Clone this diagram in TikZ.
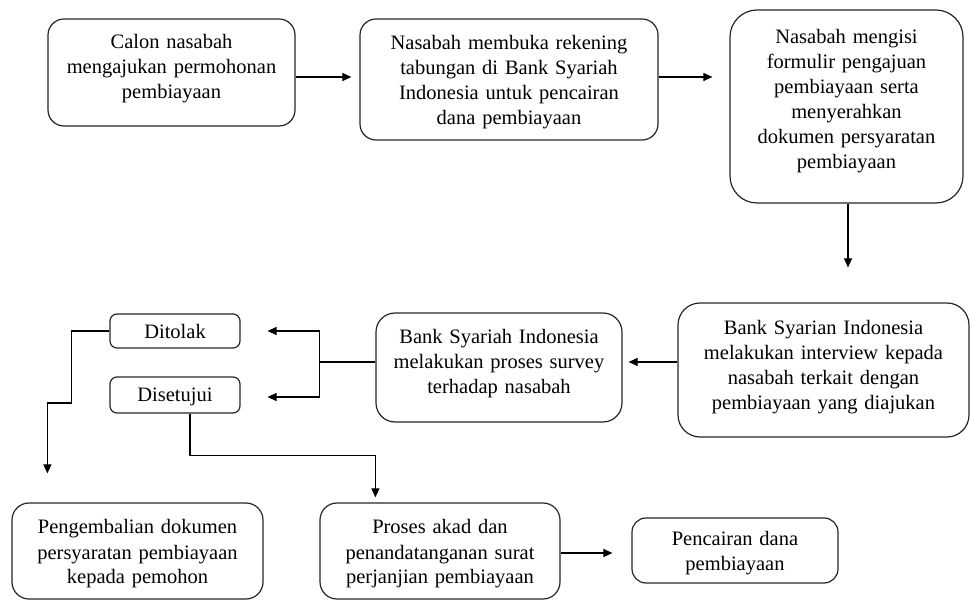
\documentclass[tikz,border=0pt]{standalone}
\usepackage{fontspec}
\setmainfont{Liberation Serif}
\usetikzlibrary{arrows.meta,calc}

\begin{document}
\begin{tikzpicture}[x=1pt,y=-1pt]
     \tikzstyle{box_style} = [draw=black!85,line width=1.2pt,rounded corners=16pt,align=center,inner sep=0pt,font=\fontsize{20.5}{25}\selectfont]
     \tikzstyle{edge_style} = [draw=black,line width=1.1pt,-{Triangle[length=9pt,width=8pt]}]
     \tikzstyle{line_style} = [draw=black,line width=1.1pt]
     \useasboundingbox (0,0) rectangle (970,601);
     % row 1
     \node[box_style,minimum width=247pt,text width=237pt,text height=30pt,text depth=77pt] (b1) at (171.5,72.5) {Calon nasabah\\mengajukan permohonan\\pembiayaan};
     \node[box_style,minimum width=298pt,text width=288pt,text height=31pt,text depth=90pt] (b2) at (509,79.5) {Nasabah membuka rekening\\tabungan di Bank Syariah\\Indonesia untuk pencairan\\dana pembiayaan};
     \node[box_style,rounded corners=27pt,minimum width=233pt,text width=225pt,text height=34pt,text depth=159pt] (b3) at (846.5,106.5) {Nasabah mengisi\\formulir pengajuan\\pembiayaan serta\\menyerahkan\\dokumen persyaratan\\pembiayaan};
     % row 2
     \node[box_style,rounded corners=22pt,minimum width=291pt,text width=281pt,text height=32pt,text depth=102pt] (b4) at (823.5,370) {Bank Syarian Indonesia\\melakukan interview kepada\\nasabah terkait dengan\\pembiayaan yang diajukan};
     \node[box_style,rounded corners=19pt,minimum width=246pt,text width=236pt,text height=31pt,text depth=78pt] (b5) at (499,367.5) {Bank Syariah Indonesia\\melakukan proses survey\\terhadap nasabah};
     \node[box_style,rounded corners=7pt,minimum width=130pt,text width=120pt,text height=25pt,text depth=9pt] (tolak) at (175,331) {Ditolak};
     \node[box_style,rounded corners=7pt,minimum width=130pt,text width=120pt,text height=25pt,text depth=11pt] (setuju) at (175,395) {Disetujui};
     % row 3
     \node[box_style,rounded corners=17pt,minimum width=251pt,text width=241pt,text height=31pt,text depth=65pt] (b6) at (137.5,551) {Pengembalian dokumen\\persyaratan pembiayaan\\kepada pemohon};
     \node[box_style,rounded corners=17pt,minimum width=240pt,text width=232pt,text height=31pt,text depth=65pt] (b7) at (440,551) {Proses akad dan\\penandatanganan surat\\perjanjian pembiayaan};
     \node[box_style,rounded corners=14pt,minimum width=206pt,text width=198pt,text height=28pt,text depth=37pt] (b8) at (735,550.5) {Pencairan dana\\pembiayaan};
     % connectors
     \draw[edge_style,shorten >=8pt] ($(b1.east)+(0,4.5)$) -- ($(b2.west)+(0,-2.5)$);
     \draw[edge_style,shorten >=17pt] ($(b2.east)+(0,-2.5)$) -- ($(b3.west |- b2.east)+(0,-2.5)$);
     \draw[edge_style,shorten >=35pt] ($(b3.south)+(1.5,0)$) -- ($(b4.north -| b3.south)+(1.5,0)$);
     \draw[edge_style,shorten >=6pt] ($(b4.west)+(0,-8)$) -- ($(b5.east |- b4.west)+(0,-8)$);
     \draw[line_style] ($(b5.west)+(0,-5.5)$) -- ++(-56,0) coordinate (split);
     \draw[edge_style,shorten >=27pt] (split) |- (tolak.east);
     \draw[edge_style,shorten >=27pt] (split) |- ($(setuju.east)+(0,2)$);
     \draw[edge_style,shorten >=29pt] (tolak.west) -| ++(-38,72) -| ($(b6.north west)+(36,0)$);
     \draw[edge_style,shorten >=5pt] ($(setuju.south)+(15,0)$) -- ++(0,42) -| ($(b7.north west)+(56,0)$);
     \draw[edge_style,shorten >=19pt] ($(b7.east)+(0,2)$) -- ($(b8.west |- b7.east)+(0,2)$);
\end{tikzpicture}
\end{document}
